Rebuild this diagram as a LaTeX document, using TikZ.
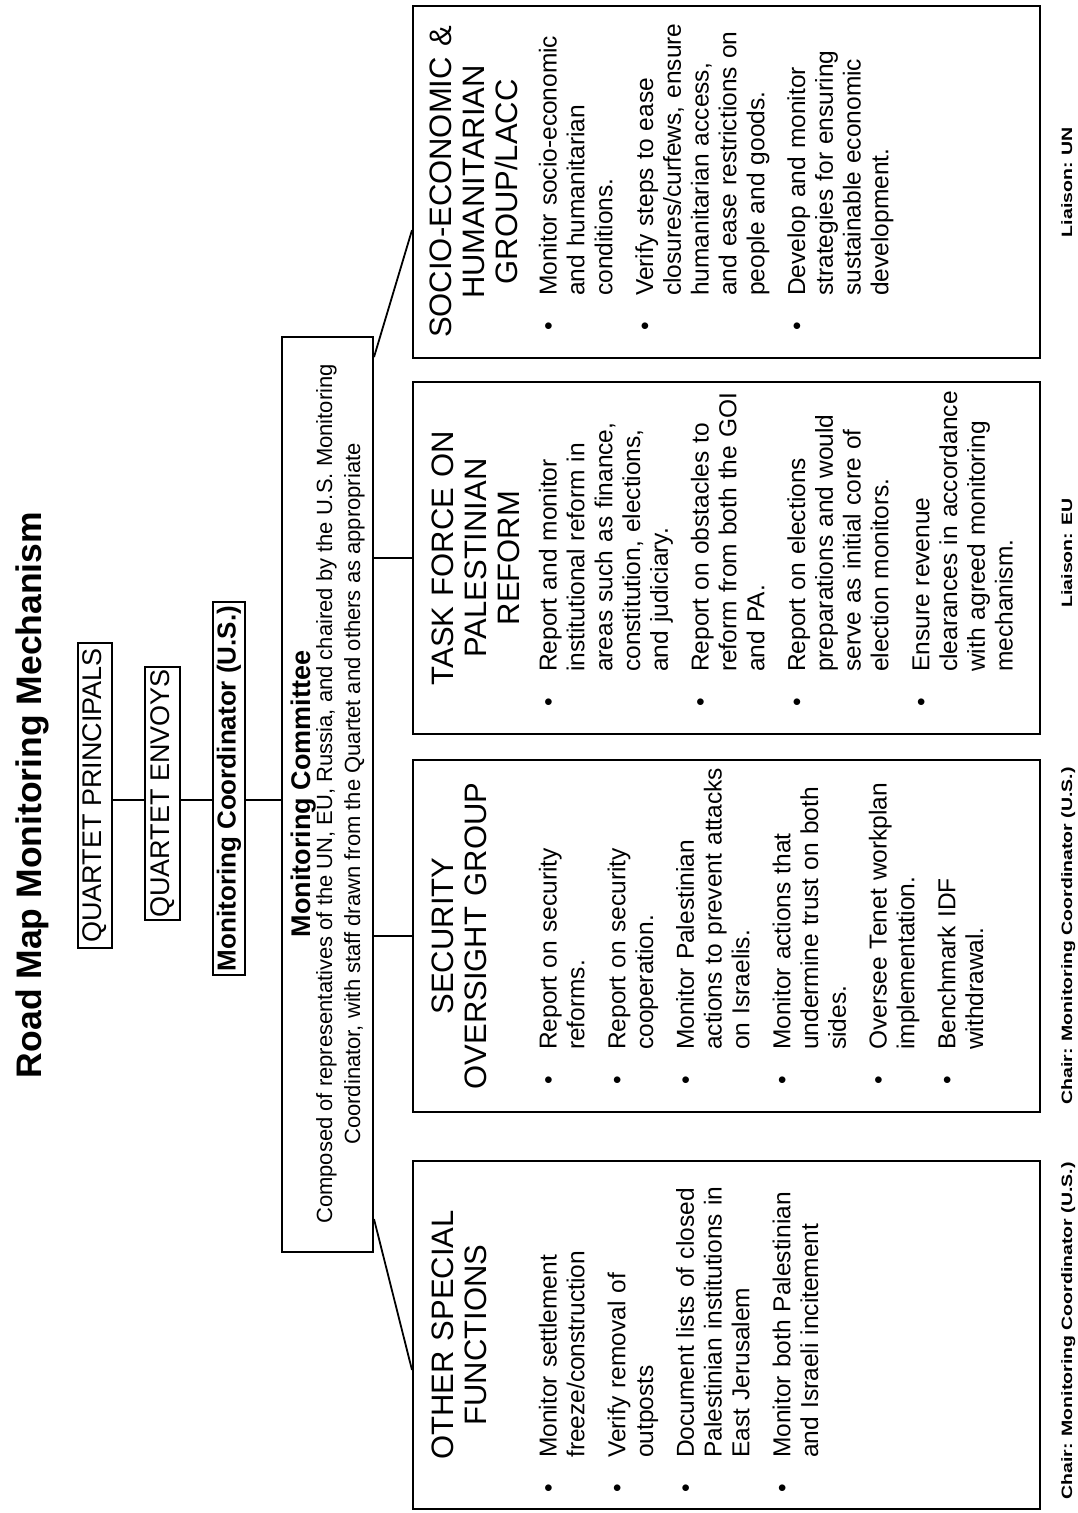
\documentclass[tikz,border=0pt]{standalone}
\usepackage{fontspec}
\setmainfont{Liberation Sans}
\usepackage{graphicx}
\usetikzlibrary{calc}
\newcommand{\bul}[1]{\hangindent=35pt\hangafter=1\noindent\makebox[35pt][l]{\strut\textbullet}#1\par}
\newcommand{\gap}{\vskip 13pt}
\tikzset{
  box/.style={draw, line width=2pt, inner sep=0pt},
  topbox/.style={draw, line width=1.8pt, inner sep=2pt, font=\fontsize{27}{30}\selectfont},
  head/.style={inner sep=0pt, anchor=north, align=center, text width=340pt, font=\fontsize{31}{33}\selectfont},
  body/.style={inner sep=0pt, anchor=north west, text width=325pt, font=\fontsize{24.5}{27.8}\selectfont},
  lbl/.style={inner sep=0pt, anchor=base, font=\fontsize{15}{18}\selectfont\bfseries},
  link/.style={line width=1.8pt},
  ttl/.style={anchor=base, inner sep=0pt, font=\fontsize{35.5}{40}\selectfont\bfseries},
  cmline/.style={anchor=base, inner sep=0pt, font=\fontsize{22}{26}\selectfont}
}
\begin{document}
\begin{tikzpicture}[x=1pt,y=1pt]
\useasboundingbox (0,0) rectangle (1078,1513);
\fill[white] (0,0) rectangle (1078,1513);
\begin{scope}[shift={(1078,0)}, rotate=90, transform shape]
  % title
  \node[ttl] (title) at (718,1037) {Road Map Monitoring Mechanism};
  % upper chain
  \node[topbox, minimum width=305pt, minimum height=34pt] (qp) at (717.5,983) {QUARTET PRINCIPALS};
  \node[topbox, minimum width=253pt, minimum height=35pt] (qe) at (719.5,915.5) {QUARTET ENVOYS};
  \node[topbox, line width=2.6pt, font=\fontsize{26}{30}\selectfont\bfseries, minimum width=373pt, minimum height=32pt] (co) at (724.5,849) {Monitoring Coordinator (U.S.)};
  % committee
  \node[box, minimum width=915pt, minimum height=91pt] (cm) at (718.5,750.5) {};
  \node[anchor=base, inner sep=0pt, font=\fontsize{27}{30}\selectfont\bfseries] (cm1) at (719,768) {Monitoring Committee};
  \node[cmline] (cm2) at (719,746) {Composed of representatives of the UN, EU, Russia, and chaired by the U.S. Monitoring};
  \node[cmline] (cm3) at (719,718) {Coordinator, with staff drawn from the Quartet and others as appropriate};
  \coordinate (spine) at (713,0);
  % group boxes
  \node[box, minimum width=348pt, minimum height=627pt] (osf) at (178,351.5) {};
  \node[box, minimum width=352pt, minimum height=627pt] (sog) at (577,351.5) {};
  \node[box, minimum width=352pt, minimum height=627pt] (tf) at (955,351.5) {};
  \node[box, minimum width=352pt, minimum height=627pt] (soc) at (1331,351.5) {};
  % headings
  \node[head] (osfh) at (178,648) {\strut OTHER SPECIAL\\FUNCTIONS};
  \node[head] (sogh) at (577,648) {\strut SECURITY\\OVERSIGHT GROUP};
  \node[head] (tfh) at (955,648) {\strut TASK FORCE ON\\PALESTINIAN\\REFORM};
  \node[head] (soch) at (1331,650) {\strut SOCIO-ECONOMIC \&\\HUMANITARIAN\\GROUP/LACC};
  % bodies
  \node[body] (osfb) at (20,541) {%
    \bul{Monitor settlement\newline freeze/construction}\gap
    \bul{Verify removal of\newline outposts}\gap
    \bul{Document lists of closed\newline Palestinian institutions in\newline East Jerusalem}\gap
    \bul{Monitor both Palestinian\newline and Israeli incitement}};
  \node[body] (sogb) at (428,541) {%
    \bul{Report on security\newline reforms.}\gap
    \bul{Report on security\newline cooperation.}\gap
    \bul{Monitor Palestinian\newline actions to prevent attacks\newline on Israelis.}\gap
    \bul{Monitor actions that\newline undermine trust on both\newline sides.}\gap
    \bul{Oversee Tenet workplan\newline implementation.}\gap
    \bul{Benchmark IDF\newline withdrawal.}};
  \node[body] (tfb) at (806,541) {%
    \bul{Report and monitor\newline institutional reform in\newline areas such as finance,\newline constitution, elections,\newline and judiciary.}\gap
    \bul{Report on obstacles to\newline reform from both the GOI\newline and PA.}\gap
    \bul{Report on elections\newline preparations and would\newline serve as initial core of\newline election monitors.}\gap
    \bul{Ensure revenue\newline clearances in accordance\newline with agreed monitoring\newline mechanism.}};
  \node[body] (socb) at (1182,541) {%
    \bul{Monitor socio-economic\newline and humanitarian\newline conditions.}\gap
    \bul{Verify steps to ease\newline closures/curfews, ensure\newline humanitarian access,\newline and ease restrictions on\newline people and goods.}\gap
    \bul{Develop and monitor\newline strategies for ensuring\newline sustainable economic\newline development.}};
  % labels
  \node[lbl] (osfl) at (182,6) {\scalebox{1.3}[1]{Chair: Monitoring Coordinator (U.S.)}};
  \node[lbl] (sogl) at (577,6) {\scalebox{1.3}[1]{Chair: Monitoring Coordinator (U.S.)}};
  \node[lbl] (tfl) at (960,6) {\scalebox{1.3}[1]{Liaison: EU}};
  \node[lbl] (socl) at (1331,6) {\scalebox{1.3}[1]{Liaison: UN}};
\end{scope}
% connectors (drawn in page coordinates, from node to node)
\draw[link] (qp.south |- spine) -- (qe.north |- spine);
\draw[link] (qe.south |- spine) -- (co.north |- spine);
\draw[link] (co.south |- spine) -- (cm.north |- spine);
\draw[link] (cm.south |- sog.north) -- (sog.north);
\draw[link] (cm.south |- tf.north) -- (tf.north);
\draw[link] ($(cm.south west)!0.037!(cm.south east)$) -- ($(osf.north west)!0.40!(osf.north east)$);
\draw[link] ($(cm.south west)!0.977!(cm.south east)$) -- ($(soc.north west)!0.364!(soc.north east)$);
\end{tikzpicture}
\end{document}
